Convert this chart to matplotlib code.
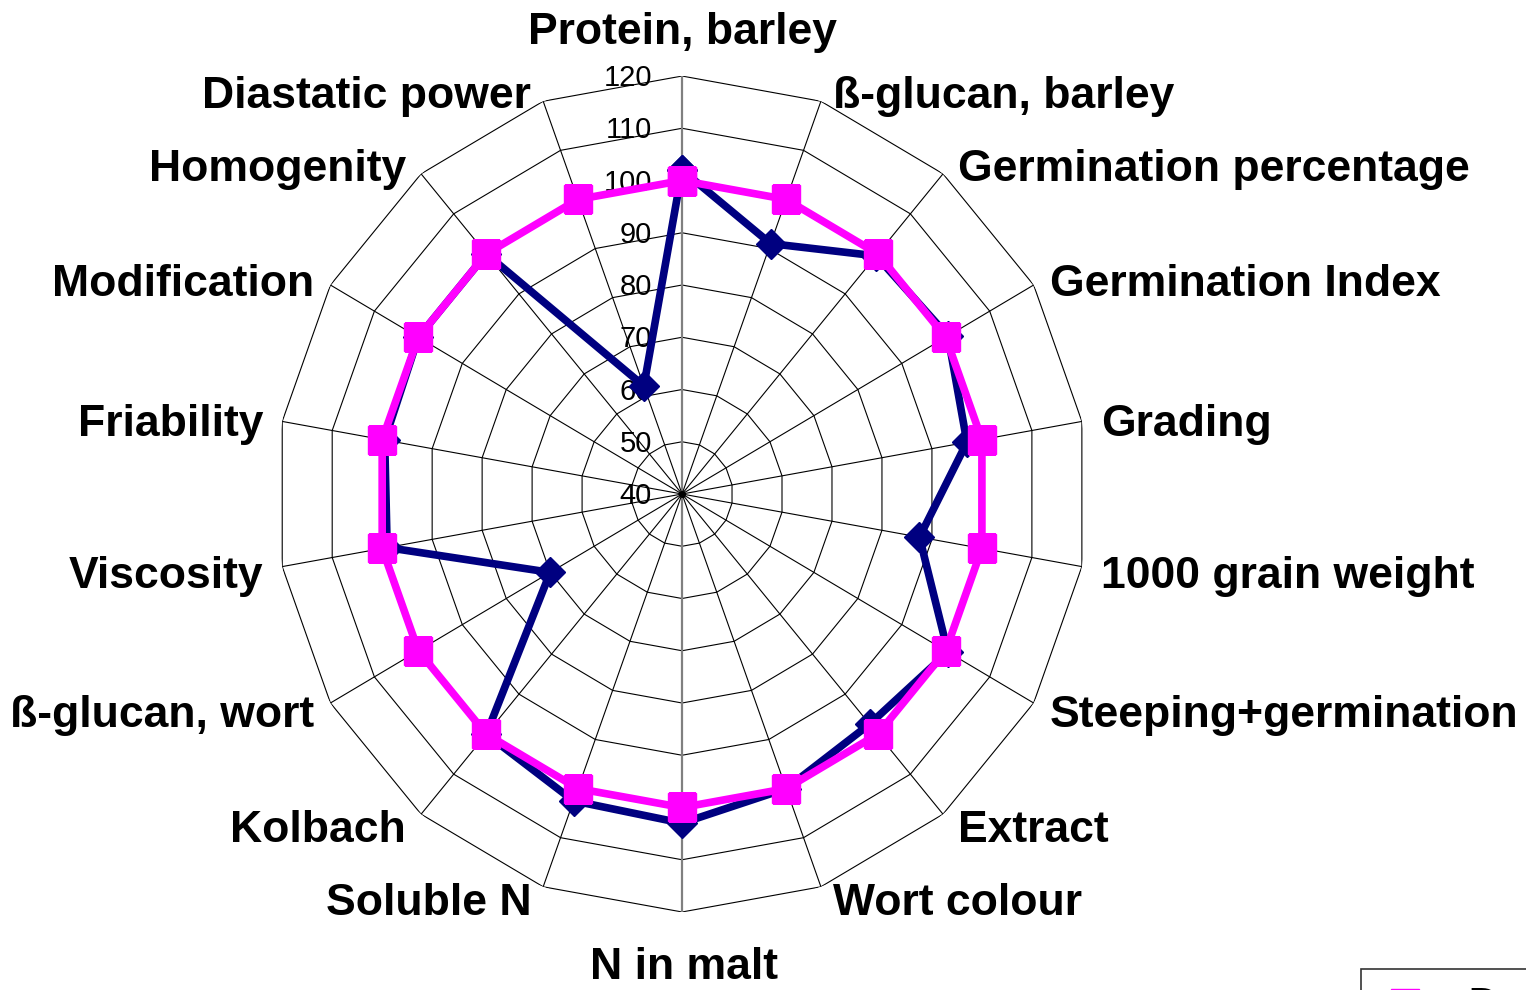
import matplotlib
matplotlib.use("Agg")
import matplotlib.pyplot as plt
import numpy as np

categories = ["Protein, barley", "ß-glucan, barley", "Germination percentage",
              "Germination Index", "Grading", "1000 grain weight",
              "Steeping+germination", "Extract", "Wort colour", "N in malt",
              "Soluble N", "Kolbach", "ß-glucan, wort", "Viscosity",
              "Friability", "Modification", "Homogenity", "Diastatic power"]
navy_vals = [102, 91, 99.5, 100.5, 97, 87.5, 100.5, 97.5, 100, 103,
             102.5, 100, 70, 99, 99.5, 100, 100, 62]
pink_vals = [100] * 18
ticks = [40, 50, 60, 70, 80, 90, 100, 110, 120]
legend_labels = ["Denmark", "Sweden"]

# label offsets in pixels from the outer vertex
offsets = [(0, 44), (12, 5), (15, 4), (16, 1), (19, -3), (19, -10), (16, -13),
           (15, -16), (12, -17), (2, -56), (-12, -17), (-15, -16), (-16, -13),
           (-19, -10), (-19, -3), (-16, 1), (-15, 4), (-12, 5)]

plt.rcParams['font.family'] = ['Liberation Sans', 'DejaVu Sans']

fig = plt.figure(figsize=(15.26, 9.9), dpi=100)
ax = fig.add_axes([0.1809, 0.0788, 0.5321, 0.8444], projection='polar')
ax.set_aspect('auto')
ax.set_theta_zero_location('N')
ax.set_theta_direction(-1)
ax.set_ylim(40, 120)
ax.set_xticks([])
ax.set_yticks([])
ax.grid(False)
ax.spines['polar'].set_visible(False)

n = len(categories)
th = np.arange(n) * 2 * np.pi / n
th_closed = np.append(th, th[0])

# polygon web
for v in ticks[1:]:
    ax.plot(th_closed, [v] * (n + 1), color='black', lw=0.8, zorder=1)
for i, t in enumerate(th):
    if i in (0, 9):
        ax.plot([t, t], [40, 120], color='#808080', lw=1.6, zorder=1)
    else:
        ax.plot([t, t], [40, 120], color='black', lw=0.8, zorder=1)
ax.plot(0, 40, 'o', color='black', ms=4, zorder=2)

# tick labels
for v in ticks:
    ax.annotate(str(v), xy=(0, v), xytext=(-30, -2), textcoords='offset pixels',
                ha='right', va='center', fontsize=21, annotation_clip=False, zorder=3)

# series
ax.plot(th_closed, navy_vals + navy_vals[:1], color='#000080', lw=5.5,
        marker='D', ms=15.5, zorder=4, label=legend_labels[1])
ax.plot(th_closed, pink_vals + pink_vals[:1], color='#FF00FF', lw=5.5,
        marker='s', ms=20, zorder=5, label=legend_labels[0])

# category labels
for i, name in enumerate(categories):
    dx, dy = offsets[i]
    if i in (0, 9):
        ha = 'center'
    elif i < 9:
        ha = 'left'
    else:
        ha = 'right'
    ax.annotate(name, xy=(th[i], 120), xytext=(dx, dy), textcoords='offset pixels',
                ha=ha, va='center', fontsize=32, fontweight='bold',
                annotation_clip=False)

h, l = ax.get_legend_handles_labels()
leg = fig.legend(h[::-1], l[::-1], loc='upper left',
                 bbox_to_anchor=(1361 / 1526, 1 - 969 / 990), fontsize=32,
                 frameon=True, fancybox=False, edgecolor='black',
                 borderaxespad=0, handlelength=1.2)
leg.get_frame().set_linewidth(1.2)

fig.savefig("out.png", dpi=100)
